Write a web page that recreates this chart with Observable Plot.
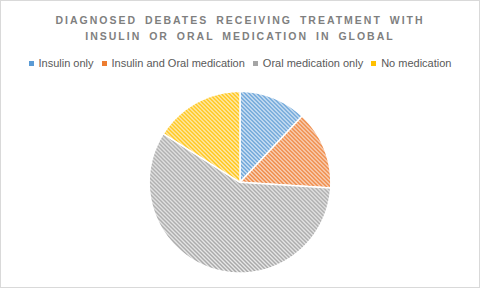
<!DOCTYPE html>
<html>
<head>
<meta charset="utf-8">
<script src="https://cdn.jsdelivr.net/npm/d3@7"></script>
<script src="https://cdn.jsdelivr.net/npm/@observablehq/plot@0.6"></script>
<style>
  html, body { margin: 0; padding: 0; background: #fff; }
  #chart { width: 478px; height: 286px; border: 1px solid #d9d9d9; position: relative; overflow: hidden; font-family: "Liberation Sans", Arial, sans-serif; }
  #title { position: absolute; left: 0; top: 11px; width: 478px; text-align: center; color: #7f7f7f; font-weight: bold; font-size: 10.5px; letter-spacing: 2px; word-spacing: 3px; line-height: 16px; }
  #legend { position: absolute; left: 0; top: 56px; width: 478px; display: flex; justify-content: center; gap: 8px; font-size: 11px; color: #595959; }
  .item { display: flex; align-items: center; gap: 5px; white-space: nowrap; }
  .sw { width: 5px; height: 5px; display: inline-block; }
  #plot { position: absolute; left: -1px; top: 75px; }
</style>
</head>
<body>
<div id="chart">
  <div id="title">DIAGNOSED DEBATES RECEIVING TREATMENT WITH<br>INSULIN OR ORAL MEDICATION IN GLOBAL</div>
  <div id="legend"></div>
  <div id="plot"></div>
</div>
<script>
const categories = ["Insulin only", "Insulin and Oral medication", "Oral medication only", "No medication"];
const values = [12, 14, 58, 16];
const colors = ["#5B9BD5", "#ED7D31", "#A5A5A5", "#FFC000"];
const tints = ["#e4eef8", "#fbe2d3", "#ededed", "#fff2cc"];

// legend
const legend = document.getElementById("legend");
categories.forEach((c, i) => {
  const it = document.createElement("div");
  it.className = "item";
  it.innerHTML = `<span class="sw" style="background:${colors[i]}"></span><span>${c}</span>`;
  legend.appendChild(it);
});

// build slice outlines from the data with d3.pie
const arcs = d3.pie().sort(null).value(d => d)(values);
const pts = [];
arcs.forEach((a, i) => {
  const n = Math.max(2, Math.ceil((a.endAngle - a.startAngle) / (Math.PI / 180)));
  pts.push({slice: i, x: 0, y: 0});
  for (let k = 0; k <= n; k++) {
    const t = a.startAngle + (a.endAngle - a.startAngle) * k / n;
    pts.push({slice: i, x: Math.sin(t), y: Math.cos(t)});
  }
  pts.push({slice: i, x: 0, y: 0});
});

const W = 480, H = 213;
const R = 91, cx = 240, cy = 106;
const plot = Plot.plot({
  width: W,
  height: H,
  marginLeft: cx - R,
  marginRight: W - cx - R,
  marginTop: cy - R,
  marginBottom: H - cy - R,
  x: {domain: [-1, 1], axis: null},
  y: {domain: [-1, 1], axis: null},
  marks: categories.map((c, i) =>
    Plot.line(pts.filter(p => p.slice === i), {
      x: "x", y: "y",
      fill: `url(#hatch${i})`,
      stroke: "white",
      strokeWidth: 1.5,
      curve: "linear"
    })
  )
});

// hatch patterns (downward diagonal)
const ns = "http://www.w3.org/2000/svg";
const defs = document.createElementNS(ns, "defs");
colors.forEach((col, i) => {
  const p = document.createElementNS(ns, "pattern");
  p.setAttribute("id", `hatch${i}`);
  p.setAttribute("patternUnits", "userSpaceOnUse");
  p.setAttribute("width", "4");
  p.setAttribute("height", "4");
  const r = document.createElementNS(ns, "rect");
  r.setAttribute("width", "4"); r.setAttribute("height", "4"); r.setAttribute("fill", tints[i]);
  const path = document.createElementNS(ns, "path");
  path.setAttribute("d", "M-1,3 l2,2 M0,0 l4,4 M3,-1 l2,2");
  path.setAttribute("stroke", col);
  path.setAttribute("stroke-width", "1.5");
  p.appendChild(r); p.appendChild(path);
  defs.appendChild(p);
});
plot.insertBefore(defs, plot.firstChild);
document.getElementById("plot").appendChild(plot);
</script>
</body>
</html>
